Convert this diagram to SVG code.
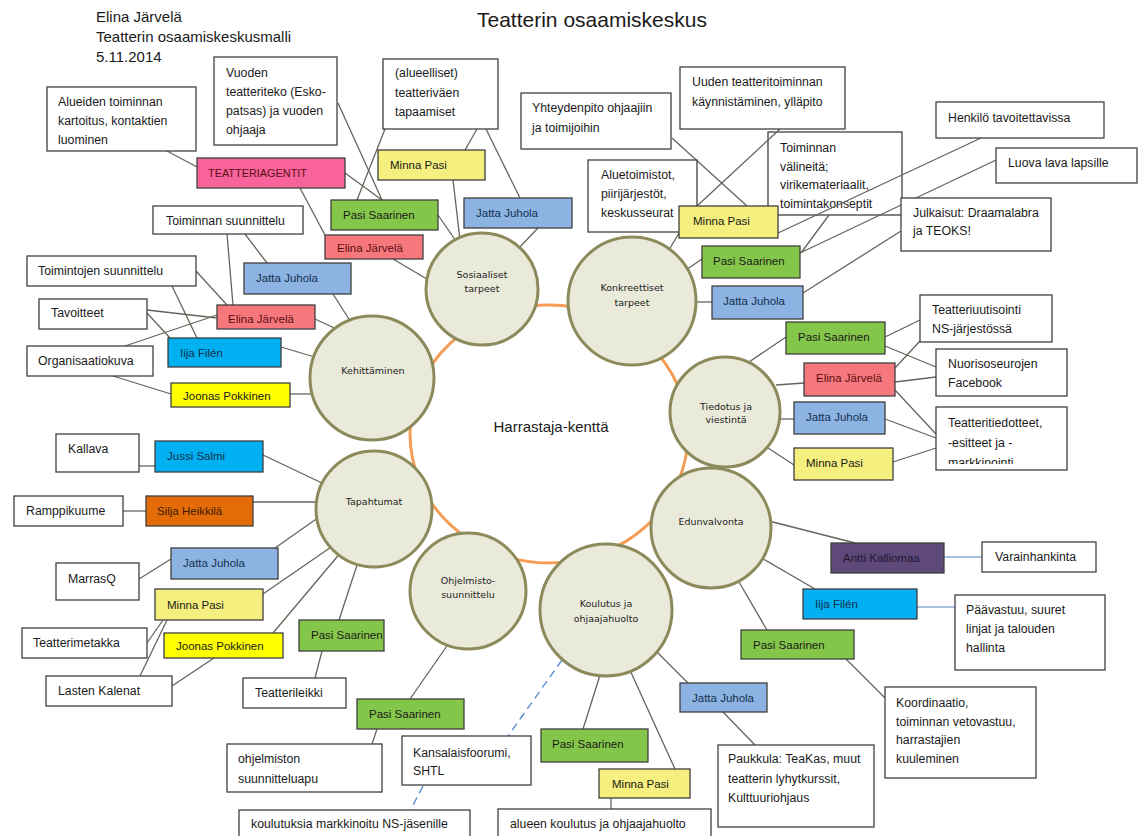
<svg xmlns="http://www.w3.org/2000/svg" width="1138" height="836" viewBox="0 0 1138 836">
<style>
.bx{stroke:#3f3f3f;stroke-width:1.3}
.w{fill:#fff}
.t{font-family:"Liberation Sans",Arial,sans-serif;font-size:12.3px;fill:#1a1a1a}
.n{font-family:"Liberation Sans",Arial,sans-serif;font-size:11.5px;fill:#1a1a1a}
.red{fill:#F6787C}.pink{fill:#F7639A}.grn{fill:#84C649}.yel{fill:#F4EF7E}.byel{fill:#FFFF00}
.blu{fill:#8DB3E2}.cyn{fill:#00B0F0}.org{fill:#E36C09}.pur{fill:#5F497A}
.tr{fill:#5b0f14}.tb{fill:#14304f}
.cc{fill:#EAEADB;stroke:#8C8A5A;stroke-width:3}
.cl{font-family:"DejaVu Sans",Verdana,sans-serif;font-size:9.5px;fill:#222;text-anchor:middle}
.ln{stroke:#66645a;stroke-width:1.3;fill:none}
.bl{stroke:#4F81BD;stroke-width:1.2;fill:none}
.dl{stroke:#5B8FD0;stroke-width:1.4;fill:none;stroke-dasharray:8 5}
.h{font-family:"Liberation Sans",Arial,sans-serif;font-size:15px;fill:#1a1a1a}
</style>
<defs>
<clipPath id="clipTied"><rect x="936" y="407" width="131" height="57"/></clipPath>
</defs>
<rect width="1138" height="836" fill="#fff"/>

<g id="header">
<text class="h" x="96" y="22">Elina Järvelä</text>
<text class="h" x="96" y="42">Teatterin osaamiskeskusmalli</text>
<text class="h" x="96" y="62">5.11.2014</text>
<text x="477" y="27" style="font-family:'Liberation Sans',Arial,sans-serif;font-size:21px;fill:#1a1a1a">Teatterin osaamiskeskus</text>
</g>

<g id="ring">
<ellipse cx="549" cy="434" rx="139" ry="129" fill="none" stroke="#F59D56" stroke-width="3"/>
<text x="551" y="432" text-anchor="middle" style="font-family:'Liberation Sans',Arial,sans-serif;font-size:15px;fill:#1a1a1a">Harrastaja-kenttä</text>
</g>

<g id="n-toiminnan-valineita"><rect class="bx" x="768" y="132" width="134" height="83" fill="none"/>
<text class="t" x="780" y="152"><tspan x="780">Toiminnan</tspan><tspan x="780" dy="18.5">välineitä;</tspan><tspan x="780" dy="18.5">virikemateriaalit,</tspan><tspan x="780" dy="18.5">toimintakonseptit</tspan></text></g>

<g id="connectors">
<line class="ln" x1="167" y1="151" x2="197" y2="167"/>
<line class="ln" x1="345" y1="173" x2="382" y2="200"/>
<line class="ln" x1="300" y1="188" x2="325" y2="235"/>
<line class="ln" x1="338" y1="103" x2="382" y2="200"/>
<line class="ln" x1="385" y1="129" x2="357" y2="200"/>
<line class="ln" x1="477" y1="129" x2="465" y2="150"/>
<line class="ln" x1="486" y1="129" x2="520" y2="198"/>
<line class="ln" x1="453" y1="180" x2="460" y2="240"/>
<line class="ln" x1="438" y1="215" x2="458" y2="244"/>
<line class="ln" x1="538" y1="228" x2="515" y2="252"/>
<line class="ln" x1="393" y1="259" x2="432" y2="282"/>
<line class="ln" x1="227" y1="234" x2="233" y2="305"/>
<line class="ln" x1="245" y1="234" x2="267" y2="263"/>
<line class="ln" x1="333" y1="294" x2="354" y2="327"/>
<line class="ln" x1="315" y1="319" x2="345" y2="333"/>
<line class="ln" x1="196" y1="271" x2="227" y2="305"/>
<line class="ln" x1="172" y1="286" x2="197" y2="338"/>
<line class="ln" x1="147" y1="310" x2="217" y2="318"/>
<line class="ln" x1="147" y1="313" x2="170" y2="338"/>
<line class="ln" x1="125" y1="346" x2="217" y2="315"/>
<line class="ln" x1="113" y1="376" x2="171" y2="394"/>
<line class="ln" x1="281" y1="347" x2="318" y2="358"/>
<line class="ln" x1="290" y1="394" x2="315" y2="394"/>
<line class="ln" x1="672" y1="138" x2="747" y2="206"/>
<line class="ln" x1="780" y1="129" x2="697" y2="206"/>
<line class="ln" x1="679" y1="233" x2="663" y2="260"/>
<line class="ln" x1="702" y1="259" x2="683" y2="272"/>
<line class="ln" x1="692" y1="302" x2="712" y2="302"/>
<line class="ln" x1="778" y1="233" x2="981" y2="138"/>
<line class="ln" x1="800" y1="253" x2="996" y2="160"/>
<line class="ln" x1="801" y1="253" x2="829" y2="215"/>
<line class="ln" x1="803" y1="293" x2="901" y2="231"/>
<line class="ln" x1="786" y1="337" x2="746" y2="364"/>
<line class="ln" x1="804" y1="383" x2="776" y2="385"/>
<line class="ln" x1="794" y1="419" x2="776" y2="419"/>
<line class="ln" x1="794" y1="465" x2="765" y2="446"/>
<line class="ln" x1="885" y1="337" x2="920" y2="320"/>
<line class="ln" x1="885" y1="346" x2="936" y2="367"/>
<line class="ln" x1="895" y1="368" x2="920" y2="341"/>
<line class="ln" x1="895" y1="382" x2="936" y2="377"/>
<line class="ln" x1="895" y1="390" x2="936" y2="434"/>
<line class="ln" x1="885" y1="419" x2="936" y2="438"/>
<line class="ln" x1="893" y1="462" x2="936" y2="448"/>
<line class="ln" x1="765" y1="520" x2="855" y2="543"/>
<line class="ln" x1="760" y1="557" x2="815" y2="589"/>
<line class="ln" x1="739" y1="582" x2="767" y2="630"/>
<line class="ln" x1="846" y1="659" x2="885" y2="698"/>
<line class="bl" x1="944" y1="557" x2="982" y2="557"/>
<line class="bl" x1="917" y1="607" x2="955" y2="607"/>
<line class="ln" x1="655" y1="650" x2="688" y2="683"/>
<line class="ln" x1="601" y1="672" x2="583" y2="729"/>
<line class="ln" x1="629" y1="668" x2="675" y2="769"/>
<line class="ln" x1="611" y1="798" x2="611" y2="809"/>
<line class="ln" x1="723" y1="712" x2="755" y2="745"/>
<line class="dl" x1="562" y1="660" x2="508" y2="736"/>
<line class="dl" x1="423" y1="786" x2="409" y2="813"/>
<line class="ln" x1="449" y1="643" x2="410" y2="699"/>
<line class="ln" x1="377" y1="729" x2="372" y2="744"/>
<line class="ln" x1="263" y1="455" x2="322" y2="483"/>
<line class="ln" x1="139" y1="466" x2="155" y2="466"/>
<line class="ln" x1="123" y1="511" x2="146" y2="511"/>
<line class="ln" x1="253" y1="502" x2="318" y2="502"/>
<line class="ln" x1="275" y1="548" x2="322" y2="515"/>
<line class="ln" x1="139" y1="579" x2="171" y2="559"/>
<line class="ln" x1="263" y1="594" x2="334" y2="545"/>
<line class="ln" x1="273" y1="633" x2="342" y2="551"/>
<line class="ln" x1="339" y1="620" x2="359" y2="559"/>
<line class="ln" x1="322" y1="651" x2="315" y2="678"/>
<line class="ln" x1="163" y1="620" x2="147" y2="643"/>
<line class="ln" x1="167" y1="620" x2="140" y2="676"/>
<line class="ln" x1="214" y1="658" x2="172" y2="686"/>
</g>

<g id="c-sosiaaliset"><circle class="cc" cx="482" cy="289" r="56"/><text class="cl" x="482" y="278">Sosiaaliset</text><text class="cl" x="482" y="292">tarpeet</text></g>
<g id="c-konkreettiset"><circle class="cc" cx="632" cy="301" r="64"/><text class="cl" x="632" y="291">Konkreettiset</text><text class="cl" x="632" y="306">tarpeet</text></g>
<g id="c-kehittaminen"><circle class="cc" cx="372" cy="378" r="62"/><text class="cl" x="373" y="374">Kehittäminen</text></g>
<g id="c-tapahtumat"><circle class="cc" cx="374" cy="509" r="58"/><text class="cl" x="374" y="505">Tapahtumat</text></g>
<g id="c-ohjelmisto"><circle class="cc" cx="468" cy="591" r="58"/><text class="cl" x="468" y="584">Ohjelmisto-</text><text class="cl" x="468" y="598">suunnittelu</text></g>
<g id="c-koulutus"><circle class="cc" cx="606" cy="610" r="66"/><text class="cl" x="606" y="607">Koulutus ja</text><text class="cl" x="606" y="622">ohjaajahuolto</text></g>
<g id="c-edunvalvonta"><circle class="cc" cx="711" cy="528" r="60"/><text class="cl" x="711" y="525">Edunvalvonta</text></g>
<g id="c-tiedotus"><circle class="cc" cx="725" cy="412" r="55"/><text class="cl" x="726" y="410">Tiedotus ja</text><text class="cl" x="726" y="423">viestintä</text></g>

<g id="n-alueiden"><rect class="bx w" x="47" y="87" width="149" height="64"/><text class="t" x="58" y="106"><tspan x="58">Alueiden toiminnan</tspan><tspan x="58" dy="19">kartoitus, kontaktien</tspan><tspan x="58" dy="19">luominen</tspan></text></g>
<g id="n-vuoden"><rect class="bx w" x="214" y="57" width="123" height="88"/><text class="t" x="226" y="77"><tspan x="226">Vuoden</tspan><tspan x="226" dy="19">teatteriteko (Esko-</tspan><tspan x="226" dy="19">patsas) ja vuoden</tspan><tspan x="226" dy="19">ohjaaja</tspan></text></g>
<g id="n-alueelliset"><rect class="bx w" x="383" y="59" width="115" height="70"/><text class="t" x="395" y="77"><tspan x="395">(alueelliset)</tspan><tspan x="395" dy="19.5">teatteriväen</tspan><tspan x="395" dy="19.5">tapaamiset</tspan></text></g>
<g id="n-yhteydenpito"><rect class="bx w" x="521" y="93" width="150" height="56"/><text class="t" x="532" y="112"><tspan x="532">Yhteydenpito ohjaajiin</tspan><tspan x="532" dy="19.5">ja toimijoihin</tspan></text></g>
<g id="n-uuden"><rect class="bx w" x="680" y="67" width="165" height="62"/><text class="t" x="692" y="86"><tspan x="692">Uuden teatteritoiminnan</tspan><tspan x="692" dy="19.5">käynnistäminen, ylläpito</tspan></text></g>
<g id="n-aluetoimistot"><rect class="bx w" x="588" y="160" width="109" height="72"/><text class="t" x="601" y="179"><tspan x="601">Aluetoimistot,</tspan><tspan x="601" dy="19">piirijärjestöt,</tspan><tspan x="601" dy="19">keskusseurat</tspan></text></g>
<g id="n-henkilo"><rect class="bx w" x="936" y="102" width="168" height="36"/><text class="t" x="948" y="122">Henkilö tavoitettavissa</text></g>
<g id="n-luova"><rect class="bx w" x="996" y="148" width="141" height="35"/><text class="t" x="1008" y="167">Luova lava lapsille</text></g>
<g id="n-julkaisut"><rect class="bx w" x="901" y="198" width="150" height="53"/><text class="t" x="913" y="217"><tspan x="913">Julkaisut: Draamalabra</tspan><tspan x="913" dy="18">ja TEOKS!</tspan></text></g>

<g id="n-teatteriagentit"><rect class="bx pink" x="197" y="158" width="148" height="30"/><text class="n tr" x="208" y="177" textLength="99" lengthAdjust="spacingAndGlyphs">TEATTERIAGENTIT</text></g>
<g id="n-toiminnan-suunnittelu"><rect class="bx w" x="153" y="206" width="150" height="28"/><text class="t" x="166" y="225">Toiminnan suunnittelu</text></g>
<g id="n-toimintojen"><rect class="bx w" x="27" y="256" width="169" height="30"/><text class="t" x="38" y="275">Toimintojen suunnittelu</text></g>
<g id="n-tavoitteet"><rect class="bx w" x="39" y="299" width="108" height="30"/><text class="t" x="51" y="317">Tavoitteet</text></g>
<g id="n-organisaatiokuva"><rect class="bx w" x="27" y="346" width="126" height="30"/><text class="t" x="38" y="365">Organisaatiokuva</text></g>

<g id="n-elina-1"><rect class="bx red" x="325" y="235" width="98" height="24"/><text class="n tr" x="337" y="252">Elina Järvelä</text></g>
<g id="n-pasi-1"><rect class="bx grn" x="331" y="200" width="107" height="30"/><text class="n" x="343" y="219">Pasi Saarinen</text></g>
<g id="n-minna-1"><rect class="bx yel" x="378" y="150" width="107" height="30"/><text class="n" x="390" y="169">Minna Pasi</text></g>
<g id="n-jatta-1"><rect class="bx blu" x="464" y="198" width="108" height="30"/><text class="n tb" x="476" y="217">Jatta Juhola</text></g>

<g id="n-jatta-2"><rect class="bx blu" x="244" y="263" width="107" height="31"/><text class="n tb" x="256" y="282">Jatta Juhola</text></g>
<g id="n-elina-2"><rect class="bx red" x="217" y="305" width="98" height="24"/><text class="n tr" x="228" y="323">Elina Järvelä</text></g>
<g id="n-iija-1"><rect class="bx cyn" x="168" y="338" width="113" height="29"/><text class="n tb" x="180" y="357">Iija Filén</text></g>
<g id="n-joonas-1"><rect class="bx byel" x="171" y="383" width="119" height="24"/><text class="n" x="183" y="400">Joonas Pokkinen</text></g>

<g id="n-minna-2"><rect class="bx yel" x="679" y="206" width="99" height="32"/><text class="n" x="693" y="225">Minna Pasi</text></g>
<g id="n-pasi-2"><rect class="bx grn" x="702" y="246" width="98" height="32"/><text class="n" x="713" y="265">Pasi Saarinen</text></g>
<g id="n-jatta-3"><rect class="bx blu" x="712" y="286" width="91" height="33"/><text class="n tb" x="723" y="305">Jatta Juhola</text></g>

<g id="n-pasi-3"><rect class="bx grn" x="786" y="322" width="99" height="32"/><text class="n" x="798" y="341">Pasi Saarinen</text></g>
<g id="n-elina-3"><rect class="bx red" x="804" y="363" width="91" height="33"/><text class="n tr" x="816" y="382">Elina Järvelä</text></g>
<g id="n-jatta-4"><rect class="bx blu" x="794" y="402" width="91" height="32"/><text class="n tb" x="806" y="421">Jatta Juhola</text></g>
<g id="n-minna-3"><rect class="bx yel" x="794" y="448" width="99" height="32"/><text class="n" x="806" y="467">Minna Pasi</text></g>
<g id="n-uutisointi"><rect class="bx w" x="920" y="295" width="132" height="47"/><text class="t" x="932" y="314"><tspan x="932">Teatteriuutisointi</tspan><tspan x="932" dy="19">NS-järjestössä</tspan></text></g>
<g id="n-facebook"><rect class="bx w" x="936" y="349" width="131" height="47"/><text class="t" x="948" y="368"><tspan x="948">Nuorisoseurojen</tspan><tspan x="948" dy="18.5">Facebook</tspan></text></g>
<g id="n-tiedotteet"><rect class="bx w" x="936" y="407" width="131" height="63"/><text class="t" x="948" y="427" clip-path="url(#clipTied)"><tspan x="948">Teatteritiedotteet,</tspan><tspan x="948" dy="19.5">-esitteet ja -</tspan><tspan x="948" dy="20.5">markkinointi</tspan></text></g>

<g id="n-antti"><rect class="bx pur" x="831" y="543" width="113" height="30"/><text class="n" x="843" y="562" style="fill:#1e1630">Antti Kalliomaa</text></g>
<g id="n-varainhankinta"><rect class="bx w" x="982" y="542" width="114" height="30"/><text class="t" x="995" y="561">Varainhankinta</text></g>
<g id="n-iija-2"><rect class="bx cyn" x="803" y="589" width="114" height="30"/><text class="n tb" x="815" y="608">Iija Filén</text></g>
<g id="n-paavastuu"><rect class="bx w" x="955" y="595" width="150" height="75"/><text class="t" x="966" y="614"><tspan x="966">Päävastuu, suuret</tspan><tspan x="966" dy="19">linjat ja talouden</tspan><tspan x="966" dy="19">hallinta</tspan></text></g>
<g id="n-pasi-4"><rect class="bx grn" x="741" y="630" width="113" height="29"/><text class="n" x="753" y="649">Pasi Saarinen</text></g>
<g id="n-koordinaatio"><rect class="bx w" x="885" y="687" width="151" height="91"/><text class="t" x="896" y="707"><tspan x="896">Koordinaatio,</tspan><tspan x="896" dy="18.7">toiminnan vetovastuu,</tspan><tspan x="896" dy="18.7">harrastajien</tspan><tspan x="896" dy="18.7">kuuleminen</tspan></text></g>

<g id="n-jatta-5"><rect class="bx blu" x="680" y="683" width="87" height="29"/><text class="n tb" x="692" y="702">Jatta Juhola</text></g>
<g id="n-paukkula"><rect class="bx w" x="718" y="745" width="156" height="82"/><text class="t" x="728" y="763"><tspan x="728">Paukkula: TeaKas, muut</tspan><tspan x="728" dy="19.5">teatterin lyhytkurssit,</tspan><tspan x="728" dy="19.5">Kulttuuriohjaus</tspan></text></g>
<g id="n-pasi-5"><rect class="bx grn" x="541" y="729" width="107" height="33"/><text class="n" x="552" y="748">Pasi Saarinen</text></g>
<g id="n-minna-4"><rect class="bx yel" x="599" y="769" width="91" height="29"/><text class="n" x="612" y="788">Minna Pasi</text></g>
<g id="n-alueen-koulutus"><rect class="bx w" x="498" y="809" width="213" height="40"/><text class="t" x="510" y="828">alueen koulutus ja ohjaajahuolto</text></g>
<g id="n-kansalaisfoorumi"><rect class="bx w" x="402" y="736" width="129" height="49"/><text class="t" x="413" y="757"><tspan x="413">Kansalaisfoorumi,</tspan><tspan x="413" dy="17.5">SHTL</tspan></text></g>
<g id="n-koulutuksia"><rect class="bx w" x="239" y="810" width="231" height="40"/><text class="t" x="251" y="828">koulutuksia markkinoitu NS-jäsenille</text></g>

<g id="n-pasi-6"><rect class="bx grn" x="357" y="699" width="107" height="30"/><text class="n" x="369" y="718">Pasi Saarinen</text></g>
<g id="n-ohjelmiston"><rect class="bx w" x="227" y="744" width="155" height="48"/><text class="t" x="238" y="763"><tspan x="238">ohjelmiston</tspan><tspan x="238" dy="19.5">suunnitteluapu</tspan></text></g>
<g id="n-pasi-7"><rect class="bx grn" x="299" y="620" width="85" height="31"/><text class="n" x="311" y="639">Pasi Saarinen</text></g>
<g id="n-teatterileikki"><rect class="bx w" x="243" y="678" width="103" height="30"/><text class="t" x="255" y="697">Teatterileikki</text></g>

<g id="n-kallava"><rect class="bx w" x="56" y="434" width="83" height="38"/><text class="t" x="68" y="453">Kallava</text></g>
<g id="n-jussi"><rect class="bx cyn" x="155" y="441" width="108" height="31"/><text class="n tb" x="167" y="460">Jussi Salmi</text></g>
<g id="n-ramppikuume"><rect class="bx w" x="14" y="496" width="109" height="30"/><text class="t" x="26" y="515">Ramppikuume</text></g>
<g id="n-silja"><rect class="bx org" x="146" y="496" width="107" height="30"/><text class="n" x="157" y="515" style="fill:#3d1a00">Silja Heikkilä</text></g>
<g id="n-jatta-6"><rect class="bx blu" x="171" y="548" width="107" height="31"/><text class="n tb" x="183" y="567">Jatta Juhola</text></g>
<g id="n-marrasq"><rect class="bx w" x="56" y="563" width="83" height="37"/><text class="t" x="68" y="583">MarrasQ</text></g>
<g id="n-minna-5"><rect class="bx yel" x="155" y="589" width="108" height="31"/><text class="n" x="167" y="609">Minna Pasi</text></g>
<g id="n-teatterimetakka"><rect class="bx w" x="22" y="628" width="125" height="30"/><text class="t" x="33" y="647">Teatterimetakka</text></g>
<g id="n-joonas-2"><rect class="bx byel" x="164" y="633" width="119" height="25"/><text class="n" x="176" y="650">Joonas Pokkinen</text></g>
<g id="n-lasten-kalenat"><rect class="bx w" x="46" y="676" width="126" height="30"/><text class="t" x="58" y="695">Lasten Kalenat</text></g>
</svg>
